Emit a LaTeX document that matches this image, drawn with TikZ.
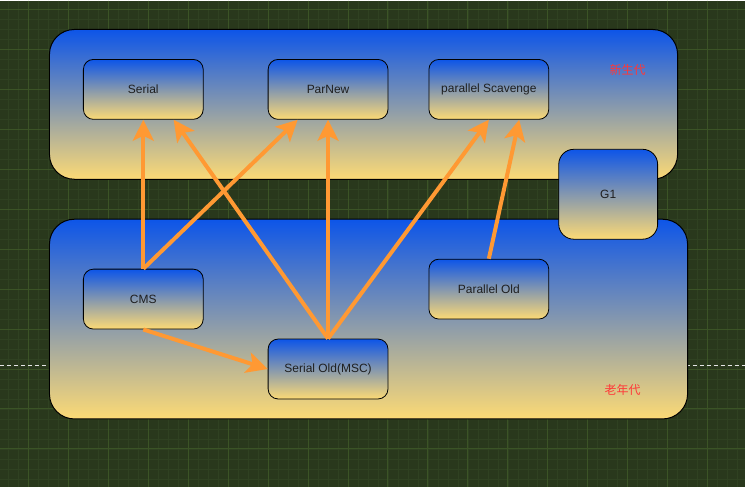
\documentclass[tikz,border=0pt]{standalone}
\usepackage{fontspec}
\setmainfont{Liberation Sans}
\newfontfamily\cjk{Noto Sans CJK SC}
\usepackage{tikz}
\usetikzlibrary{arrows.meta}
\definecolor{gcbg}{HTML}{29381C}
\definecolor{gcgridmin}{HTML}{2F4121}
\definecolor{gcgridmaj}{HTML}{3B5326}
\definecolor{gcblue}{HTML}{0D55E8}
\definecolor{gcyellow}{HTML}{FCDA75}
\definecolor{gcorange}{HTML}{FF9933}
\definecolor{gcred}{HTML}{FF3838}

\begin{document}
\begin{tikzpicture}[x=1pt, y=-1pt,
  genbox/.style={draw=black, line width=1pt, rounded corners=25pt,
              top color=gcblue, bottom color=gcyellow},
  gcbox/.style={draw=black, line width=0.8pt, rounded corners=10pt,
              top color=gcblue, bottom color=gcyellow,
              minimum width=120pt, minimum height=60pt, text centered,
              text=black!88, font=\fontsize{12}{14}\selectfont},
  genlabel/.style={text=gcred, font=\cjk\fontsize{12}{14}\selectfont},
  arr/.style={-{Stealth[length=21pt, width=21pt, inset=5pt]},
              line width=4pt, color=gcorange}
]
% background and grid
\fill[gcbg] (0,0) rectangle (745,487);
\draw[gcgridmin, line width=0.6pt]
  \foreach \x in {8,18,...,738} {(\x,0) -- (\x,487)}
  \foreach \y in {9,19,...,479} {(0,\y) -- (745,\y)};
\draw[gcgridmaj, line width=1pt]
  \foreach \x in {28,68,...,708} {(\x,0) -- (\x,487)}
  \foreach \y in {9,49,...,449} {(0,\y) -- (745,\y)};
\draw[white!80!gray, dash pattern=on 4pt off 3pt, line width=0.8pt] (0,365) -- (745,365);

% generations
\node[genbox, minimum width=629pt, minimum height=150pt] (nyoung) at (363.5,104) {};
\node[genbox, minimum width=639pt, minimum height=200pt] (nold)   at (368.5,319) {};
\node[genlabel] (lyoung) at (628,70)  {新生代};
\node[genlabel] (lold)   at (623,390) {老年代};

% collectors
\node[gcbox] (nserial)    at (143,89)  {Serial};
\node[gcbox] (nparnew)    at (328,89)  {ParNew};
\node[gcbox] (npscav)     at (489,89)  {parallel Scavenge};
\node[gcbox] (ncms)       at (143,299) {CMS};
\node[gcbox] (nserialold) at (328,369) {Serial Old(MSC)};
\node[gcbox] (nparold)    at (489,289) {Parallel Old};
\node[gcbox, rounded corners=15pt, minimum width=99pt, minimum height=90pt]
  (ng1) at (608.5,194) {G1};

\draw[arr] (ncms.north)       -- (nserial.south);
\draw[arr] (ncms.north)       -- (nparnew.-135);
\draw[arr] (nserialold.north) -- (nserial.-45);
\draw[arr] (nserialold.north) -- (nparnew.south);
\draw[arr] (nserialold.north) -- (npscav.south);
\draw[arr] (nparold.north)    -- (npscav.-45);
\draw[arr] (ncms.south)       -- (nserialold.west);
\end{tikzpicture}
\end{document}
